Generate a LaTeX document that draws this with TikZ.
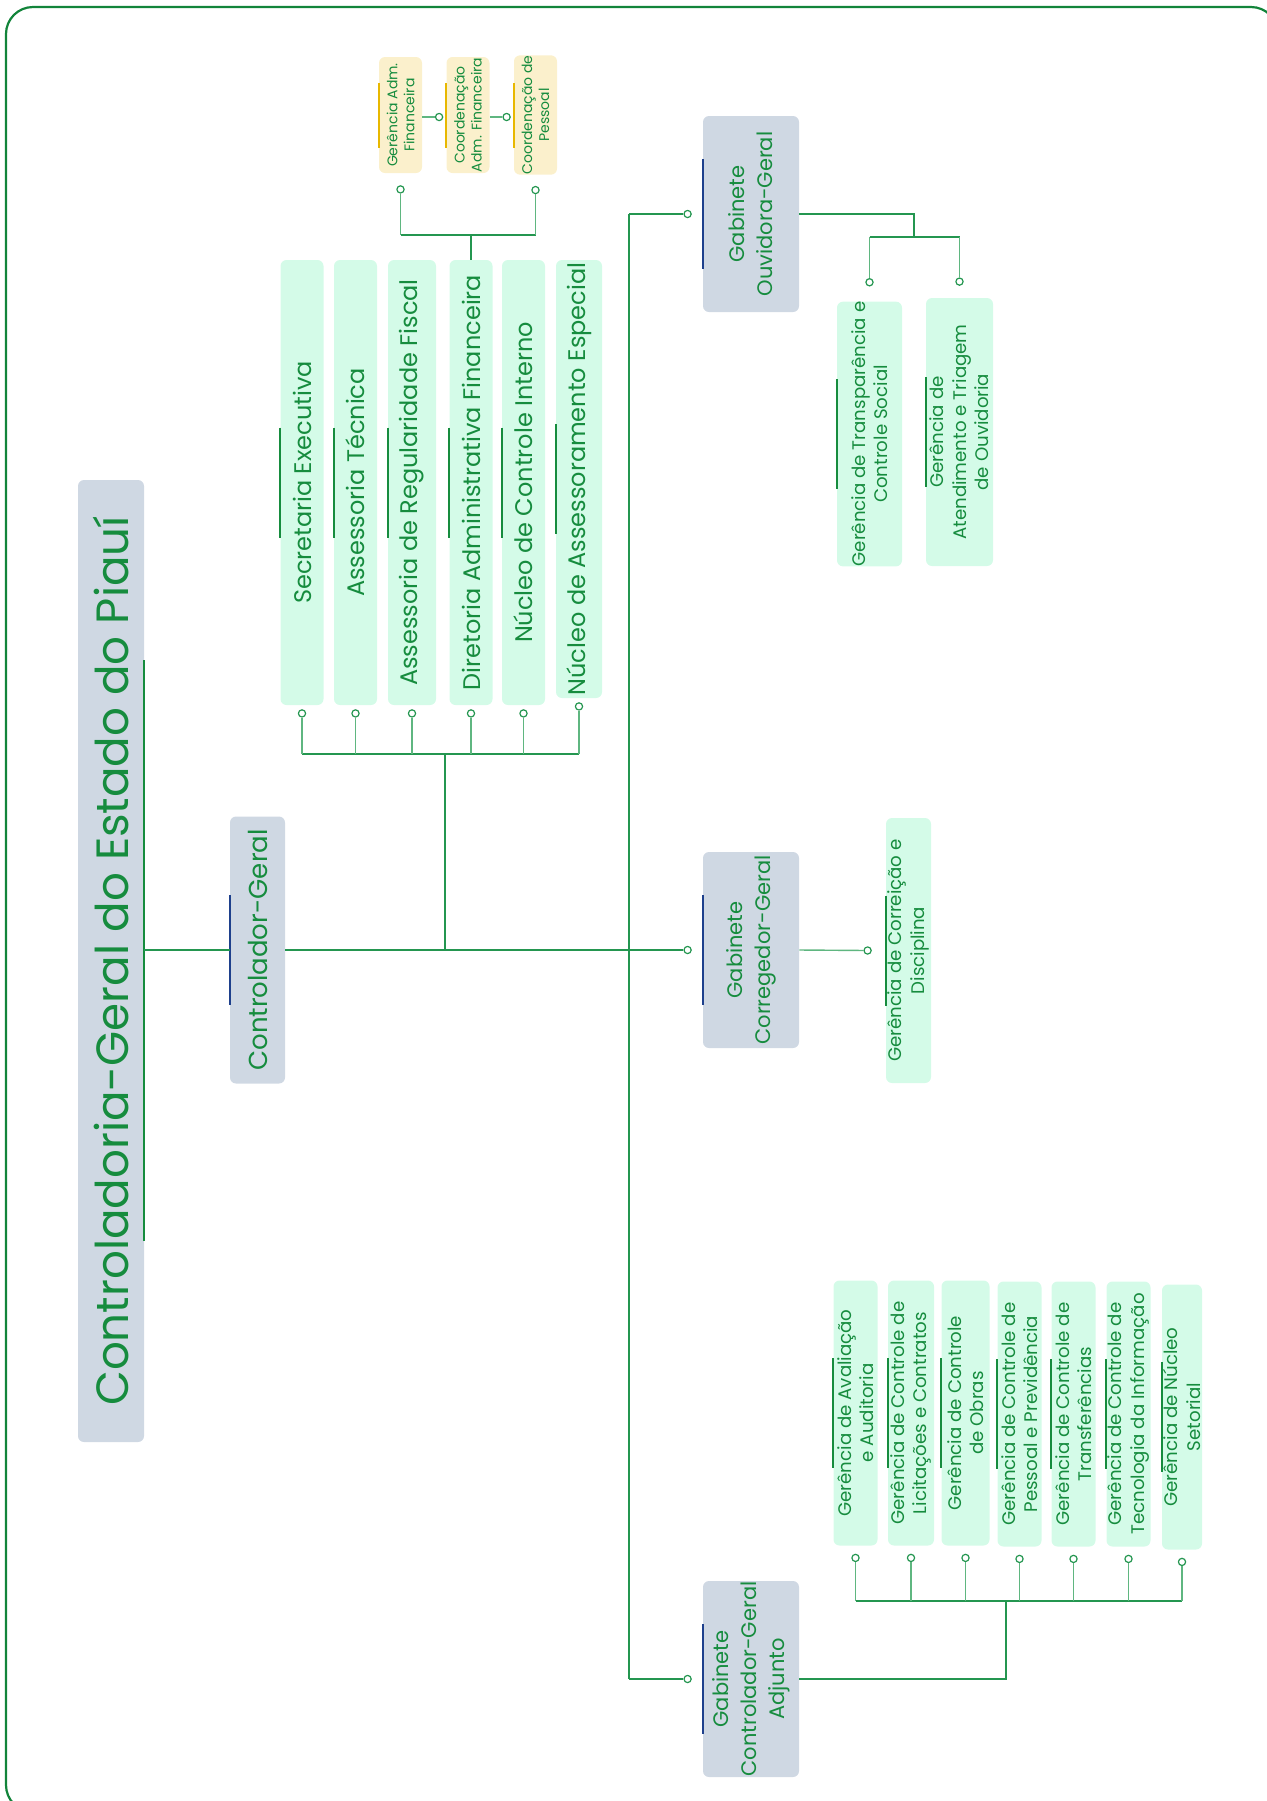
\documentclass[tikz,border=0pt]{standalone}
\usepackage{fontspec}
\setmainfont{Poppins}
\usetikzlibrary{positioning,calc}
\definecolor{textGreen}{RGB}{22,140,62}
\definecolor{linkGreen}{RGB}{36,150,80}
\definecolor{legGreen}{RGB}{95,182,128}
\definecolor{frameGreen}{RGB}{18,132,58}
\definecolor{boxGray}{RGB}{207,216,227}
\definecolor{boxMint}{RGB}{212,251,232}
\definecolor{boxCream}{RGB}{251,240,204}
\definecolor{accentBlue}{RGB}{30,64,140}
\definecolor{accentGold}{RGB}{232,184,0}
\tikzset{
  unit/.style={rotate=90, rounded corners=3pt, inner sep=0pt, align=center, text=textGreen},
  rootbox/.style={unit, fill=boxGray, font=\fontsize{22.6}{26}\selectfont},
  headbox/.style={unit, fill=boxGray, font=\fontsize{13}{16}\selectfont},
  gabbox/.style={unit, fill=boxGray, font=\fontsize{10.5}{14}\selectfont,
    minimum width=98pt, minimum height=48pt},
  itembox/.style={unit, fill=boxMint, font=\fontsize{12}{15}\selectfont,
    minimum width=222.5pt, minimum height=21.5pt},
  subbox/.style={unit, fill=boxMint, font=\fontsize{9.1}{11.3}\selectfont,
    minimum width=132.5pt, minimum height=22pt},
  finbox/.style={unit, fill=boxCream, font=\fontsize{7}{8.5}\selectfont,
    minimum width=58pt, minimum height=21.5pt},
  link/.style={draw=linkGreen, line width=1pt},
  leg/.style={draw=legGreen, line width=0.7pt},
  dot/.style={circle, draw=linkGreen, fill=white, line width=0.6pt,
    minimum size=3.6pt, inner sep=0pt},
  accent/.style={line width=1pt},
}
\begin{document}
\begin{tikzpicture}[x=0.5pt, y=-0.5pt]
  \useasboundingbox (0,0) rectangle (1267,1801);
  % Frame
  \draw[frameGreen, line width=1.1pt, rounded corners=13.5pt] (6,7) rectangle (1278,1812);

  % Root and head
  \node[rootbox, minimum width=481pt, minimum height=33pt] (root) at (111,961)
    {Controladoria-Geral do Estado do Piauí};
  \node[headbox, minimum width=133.5pt, minimum height=27.5pt] (cg) at (257.5,950)
    {Controlador-Geral};

  % First level units
  \node[itembox] (s1) at (302,482.5) {Secretaria Executiva};
  \node[itembox] (s2) at (355.5,482.5) {Assessoria Técnica};
  \node[itembox, minimum height=24pt] (s3) at (412,482.5) {Assessoria de Regularidade Fiscal};
  \node[itembox] (s4) at (471,482.5) {Diretoria Administrativa Financeira};
  \node[itembox] (s5) at (523.5,482.5) {Núcleo de Controle Interno};
  \node[itembox, minimum width=219pt, minimum height=23pt] (s6) at (579,479)
    {Núcleo de Assessoramento Especial};

  % Units under the Diretoria
  \node[finbox] (f1) at (400.5,115) {Gerência Adm.\\Financeira};
  \node[finbox] (f2) at (468,115) {Coordenação\\Adm. Financeira};
  \node[finbox] (f3) at (535.5,115) {Coordenação de\\Pessoal};

  % Gabinetes
  \node[gabbox] (ouv) at (751,214) {Gabinete\\Ouvidora-Geral};
  \node[gabbox] (corr) at (751,950) {Gabinete\\Corregedor-Geral};
  \node[gabbox] (adj) at (751,1679) {Gabinete\\Controlador-Geral\\Adjunto};

  % Gerencias
  \node[subbox, minimum width=132pt, minimum height=32.5pt] (t1) at (869.5,434)
    {Gerência de Transparência e\\Controle Social};
  \node[subbox, minimum width=134pt, minimum height=33.5pt] (t2) at (959.5,432)
    {Gerência de\\Atendimento e Triagem\\de Ouvidoria};
  \node[subbox, minimum height=22.5pt] (k1) at (908.5,950.5)
    {Gerência de Correição e\\Disciplina};
  \node[subbox] (a1) at (855.5,1413) {Gerência de Avaliação\\e Auditoria};
  \node[subbox, minimum height=23pt] (a2) at (911,1413) {Gerência de Controle de\\Licitações e Contratos};
  \node[subbox, minimum height=24pt] (a3) at (965.5,1413) {Gerência de Controle\\de Obras};
  \node[subbox] (a4) at (1019.5,1414) {Gerência de Controle de\\Pessoal e Previdência};
  \node[subbox] (a5) at (1073.5,1414) {Gerência de Controle de\\Transferências};
  \node[subbox] (a6) at (1128.5,1414) {Gerência de Controle de\\Tecnologia da Informação};
  \node[subbox, minimum height=20pt] (a7) at (1182,1417) {Gerência de Núcleo\\Setorial};

  % Accent bars
  \draw[accent, textGreen] ($(root.south)+(0,-301)$) -- ($(root.south)+(0,280)$);
  \foreach \n in {cg,ouv,corr,adj}
    \draw[accent, accentBlue] ($(\n.north)+(0,-55)$) -- ($(\n.north)+(0,55)$);
  \foreach \n in {s1,s2,s3,s4,s5,s6,t1,t2,k1,a1,a2,a3,a4,a5,a6,a7}
    \draw[accent, textGreen] ($(\n.north)+(0,-55)$) -- ($(\n.north)+(0,55)$);
  \foreach \n in {f1,f2,f3}
    \draw[accent, accentGold] ($(\n.north)+(0,-32)$) -- ($(\n.north)+(0,33)$);

  % Junctions
  \coordinate (hub) at (445,950);
  \coordinate (bar) at (445,754);
  \coordinate (trunk) at (629,950);
  \coordinate (fbar) at (471,235);
  \coordinate (obar) at (914,237);
  \coordinate (abar) at (1006,1601);

  % Dots
  \foreach \n in {1,...,6}
    \node[dot] (d\n) at ($(s\n.west)+(0,8)$) {};
  \node[dot] (fd1) at ($(f1.west)+(0,16)$) {};
  \node[dot] (fd3) at ($(f3.west)+(0,15)$) {};
  \node[dot] (fc2) at ($(f2.north)+(-7,2)$) {};
  \node[dot] (fc3) at ($(f3.north)+(-7,2)$) {};
  \node[dot] (do) at ($(ouv.north)+(-15,0)$) {};
  \node[dot] (dc) at ($(corr.north)+(-15,0)$) {};
  \node[dot] (da) at ($(adj.north)+(-15,0)$) {};
  \node[dot] (td1) at ($(t1.east)+(0,-19)$) {};
  \node[dot] (td2) at ($(t2.east)+(0,-16)$) {};
  \node[dot] (kd) at ($(k1.north)+(-18,0)$) {};
  \foreach \n in {1,...,7}
    \node[dot] (ad\n) at ($(a\n.west)+(0,12)$) {};

  % Connectors
  \draw[link] (root.south |- cg.north) -- (cg.north);
  \draw[link] (cg.south) -- (dc);
  \draw[link] (hub) -- (bar);
  \draw[link] (d1 |- bar) -- (d6 |- bar);
  \foreach \n in {1,...,6}
    \draw[leg] (d\n) -- (d\n |- bar);
  \draw[link] (trunk |- do) -- (trunk |- da);
  \draw[link] (trunk |- do) -- (do);
  \draw[link] (trunk |- da) -- (da);
  % Diretoria branch
  \draw[link] (s4.east) -- (fbar);
  \draw[link] (fd1 |- fbar) -- (fd3 |- fbar);
  \draw[leg] (fd1) -- (fd1 |- fbar);
  \draw[leg] (fd3) -- (fd3 |- fbar);
  \draw[leg] (f1.south |- fc2) -- (fc2);
  \draw[leg] (f2.south |- fc3) -- (fc3);
  % Ouvidoria branch
  \draw[link] (ouv.south) -- (obar |- ouv.south) -- (obar);
  \draw[link] (td1 |- obar) -- (td2 |- obar);
  \draw[leg] (td1) -- (td1 |- obar);
  \draw[leg] (td2) -- (td2 |- obar);
  % Corregedoria branch
  \draw[leg] (corr.south) -- (kd);
  % Adjunto branch
  \draw[link] (adj.south) -- (abar |- adj.south) -- (abar);
  \draw[link] (ad1 |- abar) -- (ad7 |- abar);
  \foreach \n in {1,...,7}
    \draw[leg] (ad\n) -- (ad\n |- abar);
\end{tikzpicture}
\end{document}
